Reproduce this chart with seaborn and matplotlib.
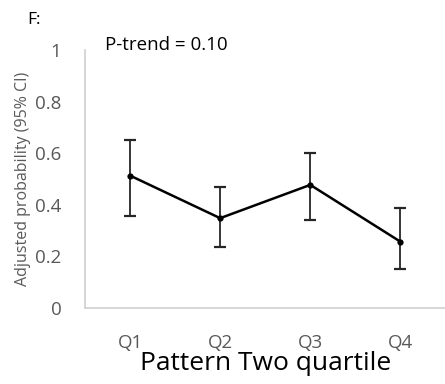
import seaborn as sns
import pandas as pd
import numpy as np
import matplotlib.pyplot as plt

quartiles = ['Q1', 'Q2', 'Q3', 'Q4']
prob = [0.513, 0.348, 0.477, 0.257]
ci_low = [0.358, 0.238, 0.341, 0.151]
ci_high = [0.651, 0.468, 0.601, 0.389]

df = pd.DataFrame({'Quartile': quartiles, 'Prob': prob, 'Low': ci_low, 'High': ci_high})

sns.set_style('white')
plt.rcParams['font.family'] = ['Open Sans', 'DejaVu Sans']

fig = plt.figure(figsize=(4.45, 3.84), dpi=100)
ax = fig.add_axes([0.191, 0.198, 0.81, 0.672])

x = np.arange(len(quartiles))
ax.errorbar(x, df['Prob'], yerr=[df['Prob'] - df['Low'], df['High'] - df['Prob']],
            fmt='none', ecolor='#262626', elinewidth=1.3, capsize=4, capthick=1.6, zorder=2)
sns.lineplot(x=x, y='Prob', data=df, color='black', linewidth=1.8, marker='o',
             markersize=4.5, markeredgewidth=0, ax=ax, zorder=3)

ax.set_xlim(-0.5, 3.5)
ax.set_ylim(0, 1)
ax.set_xticks(x)
ax.set_xticklabels(quartiles)
ax.set_yticks([0, 0.2, 0.4, 0.6, 0.8, 1])
ax.set_yticklabels(['0', '0.2', '0.4', '0.6', '0.8', '1'])
ax.tick_params(axis='both', length=0, labelsize=13.5, colors='#595959')
ax.tick_params(axis='x', pad=19)
ax.tick_params(axis='y', pad=17)

for s in ['top', 'right']:
    ax.spines[s].set_visible(False)
ax.spines['left'].set_color('#d0d0d0')
ax.spines['bottom'].set_color('#d0d0d0')
ax.spines['left'].set_linewidth(1.2)
ax.spines['bottom'].set_linewidth(1.2)

ax.set_xlabel('Pattern Two quartile', fontsize=19, color='black', labelpad=-1)
ax.set_ylabel('Adjusted probability (95% CI)', fontsize=11.5, color='#595959', labelpad=3)

fig.text(0.061, 0.948, 'F:', fontsize=12.5, color='black', va='center')
fig.text(0.236, 0.882, 'P-trend = 0.10', fontsize=13.5, color='black', va='center')

plt.savefig('out.png', dpi=100)
